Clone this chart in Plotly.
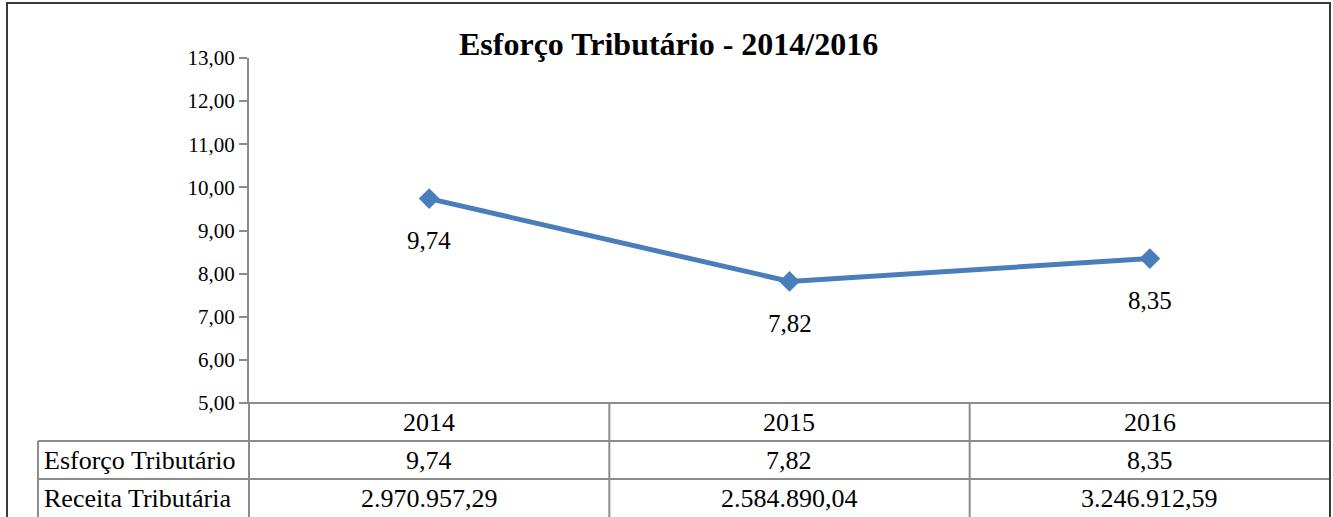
import plotly.graph_objects as go

years = ["2014", "2015", "2016"]
esforco = [9.74, 7.82, 8.35]
receita = ["2.970.957,29", "2.584.890,04", "3.246.912,59"]
row_labels = ["Esforço Tributário", "Receita Tributária"]
title = "Esforço Tributário - 2014/2016"

W, H = 1333, 517
FONT = "Liberation Serif, Times New Roman, serif"
LINE = "#4A7EBB"
GRID = "#8C8C8C"

def px(x):
    return x / W

def py(y):
    return 1 - y / H

x0, x1 = 249, 1330
ytop, ybot = 58, 403

fig = go.Figure()
fig.add_trace(go.Scatter(
    x=list(range(len(years))), y=esforco, mode="lines+markers",
    line=dict(color=LINE, width=5),
    marker=dict(symbol="diamond", size=16, color=LINE),
    hoverinfo="skip", showlegend=False, cliponaxis=False,
))

def fmt(v):
    return f"{v:.2f}".replace(".", ",")

annotations = []
for i, v in enumerate(esforco):
    annotations.append(dict(x=i, y=v, xref="x", yref="y", text=fmt(v), showarrow=False,
                            yshift=-42, font=dict(family=FONT, size=25, color="#000")))

annotations.append(dict(x=px(668), y=py(44), xref="paper", yref="paper", text=f"<b>{title}</b>",
                        showarrow=False, font=dict(family=FONT, size=32, color="#000"),
                        xanchor="center", yanchor="middle"))

rows_y = [403, 441, 479, 517]
col_w = (x1 - x0) / len(years)
TS = 26
for i, yr in enumerate(years):
    cx = x0 + col_w * (i + 0.5)
    annotations.append(dict(x=px(cx), y=py((rows_y[0] + rows_y[1]) / 2), xref="paper", yref="paper",
                            text=yr, showarrow=False, font=dict(family=FONT, size=TS, color="#000"),
                            xanchor="center", yanchor="middle"))
    annotations.append(dict(x=px(cx), y=py((rows_y[1] + rows_y[2]) / 2), xref="paper", yref="paper",
                            text=fmt(esforco[i]), showarrow=False, font=dict(family=FONT, size=TS, color="#000"),
                            xanchor="center", yanchor="middle"))
    annotations.append(dict(x=px(cx), y=py((rows_y[2] + rows_y[3]) / 2), xref="paper", yref="paper",
                            text=receita[i], showarrow=False, font=dict(family=FONT, size=TS, color="#000"),
                            xanchor="center", yanchor="middle"))
for r, lab in enumerate(row_labels):
    annotations.append(dict(x=px(42), y=py((rows_y[r + 1] + rows_y[r + 2]) / 2), xref="paper", yref="paper",
                            text=lab, showarrow=False, font=dict(family=FONT, size=TS, color="#000"),
                            xanchor="left", yanchor="middle"))

shapes = []
def line(xa, ya, xb, yb, color=GRID, w=2):
    shapes.append(dict(type="line", xref="paper", yref="paper", x0=px(xa), y0=py(ya), x1=px(xb), y1=py(yb),
                       line=dict(color=color, width=w)))

line(38, 441, x1, 441)
line(38, 479, x1, 479)
line(38, 441, 38, 520)
for i in range(1, len(years)):
    xx = x0 + col_w * i
    line(xx, 403, xx, 520)
line(x0, 403, x0, 520)
line(x0, 403, x1, 403)
line(240, 403, x0, 403)

shapes.append(dict(type="rect", xref="paper", yref="paper", x0=px(7), y0=py(530), x1=px(1330), y1=py(3),
                   line=dict(color="#3A3A3A", width=2), fillcolor="rgba(0,0,0,0)"))

fig.update_layout(
    width=W, height=H, margin=dict(l=0, r=0, t=0, b=0, autoexpand=False),
    paper_bgcolor="white", plot_bgcolor="white",
    separators=",.",
    xaxis=dict(domain=[px(x0), px(x1)], range=[-0.5, 2.5], showgrid=False, zeroline=False,
               showticklabels=False, showline=False, ticks="", automargin=False),
    yaxis=dict(domain=[py(ybot), py(ytop)], range=[5, 13], dtick=1, tickformat=".2f",
               showgrid=False, zeroline=False, showline=True, linecolor=GRID, linewidth=2,
               ticks="outside", ticklen=8, tickcolor=GRID, tickwidth=2, automargin=False,
               tickfont=dict(family=FONT, size=21, color="#000")),
    annotations=annotations, shapes=shapes,
)

fig.write_html(
    "out.html",
    config={"displayModeBar": False},
    post_script="document.documentElement.style.margin='0';document.body.style.margin='0';",
)
